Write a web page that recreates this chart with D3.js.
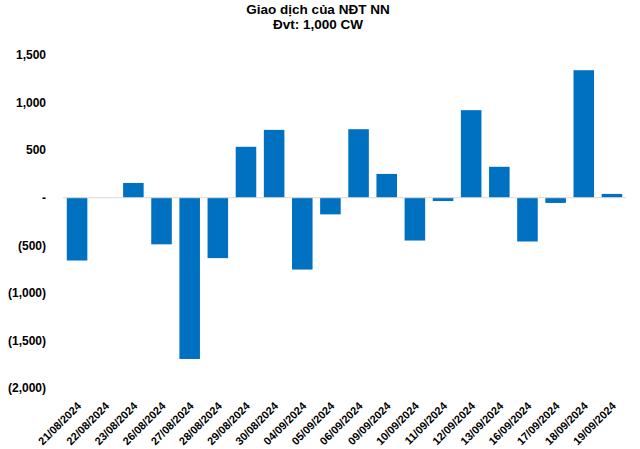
<!DOCTYPE html>
<html><head><meta charset="utf-8">
<script src="https://cdn.jsdelivr.net/npm/d3@7"></script>
<style>body{margin:0;background:#fff}svg{display:block;font-family:"Liberation Sans",Arial,sans-serif}</style>
</head><body><svg id="c" width="640" height="449"></svg>
<script>
const categories = ["21/08/2024","22/08/2024","23/08/2024","26/08/2024","27/08/2024","28/08/2024","29/08/2024","30/08/2024","04/09/2024","05/09/2024","06/09/2024","09/09/2024","10/09/2024","11/09/2024","12/09/2024","13/09/2024","16/09/2024","17/09/2024","18/09/2024","19/09/2024"];
const values = [-660, 0, 155, -490, -1695, -635, 535, 713, -755, -175, 720, 250, -450, -35, 920, 325, -460, -55, 1340, 40];
const yTicks = [1500, 1000, 500, 0, -500, -1000, -1500, -2000];
const titleLines = ["Giao dịch của NĐT NN", "Đvt: 1,000 CW"];

const svg = d3.select("#c");
const x = d3.scaleBand().domain(categories).range([63, 626]).paddingInner(0.27).paddingOuter(0.135);
const y = d3.scaleLinear().domain([-2000, 1500]).range([388, 55]);

svg.selectAll("text.title").data(titleLines).join("text")
  .attr("x", 318).attr("y", (d,i)=>14 + i*14.5).attr("text-anchor","middle")
  .attr("font-size", 13.5).attr("font-weight","bold").attr("fill","#000").text(d=>d);

const fmt = v => v === 0 ? "-" : (v < 0 ? "(" + d3.format(",")(-v) + ")" : d3.format(",")(v));
const ya = svg.append("g").attr("transform","translate(46,0)")
  .call(d3.axisLeft(y).tickValues(yTicks).tickFormat(fmt).tickSize(0).tickPadding(0));
ya.select(".domain").remove();
ya.selectAll("text").attr("font-size", 12).attr("font-weight","bold").attr("fill","#000")
  .attr("font-family","'Liberation Sans',Arial,sans-serif");

svg.selectAll("rect.bar").data(values).join("rect").attr("class","bar")
  .attr("x",(d,i)=>x(categories[i])).attr("width", x.bandwidth())
  .attr("y", d=>y(Math.max(0,d))).attr("height", d=>Math.abs(y(d)-y(0)))
  .attr("fill","#0070C0");

svg.append("line").attr("x1",63).attr("x2",626).attr("y1",y(0)).attr("y2",y(0))
  .attr("stroke","#d9d9d9").attr("stroke-width",1);

const xa = svg.append("g").attr("transform","translate(0,398)")
  .call(d3.axisBottom(x).tickSize(0).tickPadding(0));
xa.select(".domain").remove();
xa.selectAll("text").attr("font-size", 11).attr("font-weight","bold").attr("fill","#000")
  .attr("font-family","'Liberation Sans',Arial,sans-serif")
  .attr("text-anchor","end").attr("dy","0.35em")
  .attr("transform","translate(2,6) rotate(-45)");
</script></body></html>
